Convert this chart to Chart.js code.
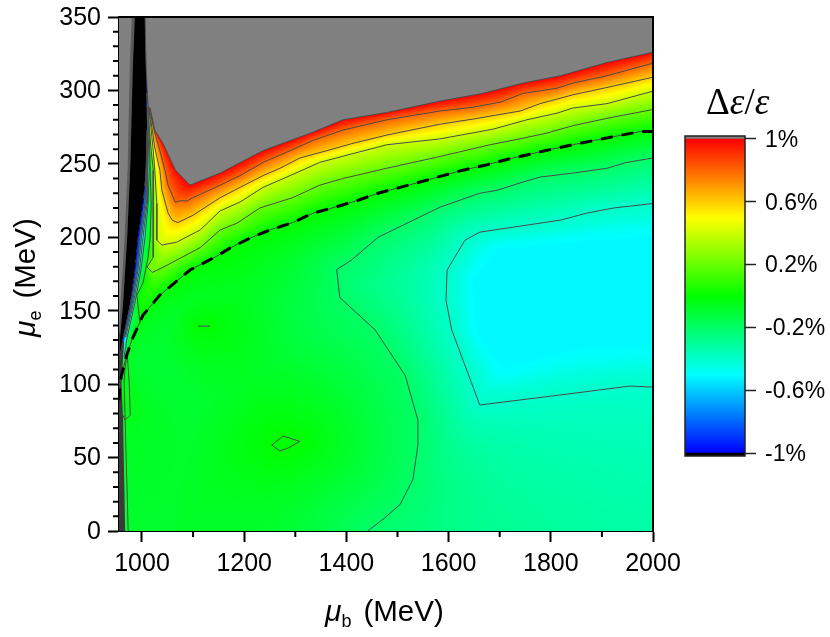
<!DOCTYPE html>
<html>
<head>
<meta charset="utf-8">
<title>Contour chart</title>
<script src="https://cdn.jsdelivr.net/npm/chart.js@4"></script>
<style>
  html, body { margin: 0; padding: 0; background: #fff; }
  #wrap { position: relative; width: 830px; height: 637px; overflow: hidden; font-family: "Liberation Sans", Arial, sans-serif; color: #000; }
  #main { position: absolute; left: 0; top: 0; }
  #bar { position: absolute; left: 670px; top: 120px; }
  .label { position: absolute; white-space: nowrap; font-size: 29.5px; line-height: 34px; }
  .label i { font-size: 30px; }
  .label sub { font-size: 18px; line-height: 0; vertical-align: -6px; margin-right: 12px; }
  #xtitle { left: 325px; top: 594px; }
  #ytitle { left: 8px; top: 337px; transform-origin: left top; transform: rotate(-90deg); }
  #bartitle { left: 706px; top: 81px; font-family: "Liberation Serif", serif; font-size: 37px; line-height: 42px; }
  #bartitle i { font-size: 37px; }
</style>
</head>
<body>
<div id="wrap">
  <canvas id="main" width="830" height="637"></canvas>
  <canvas id="bar" width="160" height="350"></canvas>
  <div class="label" id="xtitle"><i>μ</i><sub>b</sub>(MeV)</div>
  <div class="label" id="ytitle"><i>μ</i><sub>e</sub>(MeV)</div>
  <div class="label" id="bartitle">Δ<i>ε</i>/<i>ε</i></div>
</div>
<script>
// axis ticks
const xTicks = [1000, 1200, 1400, 1600, 1800, 2000];
const xMinor = [1100, 1300, 1500, 1700, 1900];
const yTicks = [0, 50, 100, 150, 200, 250, 300, 350];
const yMinor = [10, 20, 30, 40, 60, 70, 80, 90, 110, 120, 130, 140, 160, 170, 180, 190, 210, 220, 230, 240, 260, 270, 280, 290, 310, 320, 330, 340];
const barTicks = [1, 0.6, 0.2, -0.2, -0.6, -1];

// contour lines, [mu_b, mu_e]
const level10 = [[1006, 350], [1008, 316], [1012, 289], [1016, 288], [1025, 273], [1041, 264], [1065, 246], [1070, 244], [1094, 235.5], [1153, 243.7], [1237, 259], [1335, 271.6], [1393, 280], [1479, 285], [1583, 292.7], [1667, 298], [1746, 305], [1819, 310], [1910, 319], [2000, 326]];
const level08 = [[1012, 289], [1016, 285], [1025, 271], [1035, 259], [1045, 245.7], [1051, 235.5], [1065, 224], [1078, 225], [1088, 224.6], [1098, 226.7], [1153, 235.5], [1192, 242], [1237, 251], [1290, 259], [1335, 266], [1393, 273], [1479, 280], [1583, 286], [1648, 288.6], [1701, 292], [1746, 298], [1812, 301.5], [1843, 305], [1910, 310], [2000, 318.6]];
const level06 = [[1012, 289], [1016, 283], [1025, 261], [1035, 245.7], [1039, 232], [1051, 216.5], [1059, 211.7], [1070, 210], [1100, 215], [1153, 227], [1192, 234], [1237, 242], [1270, 247], [1309, 254], [1362, 259], [1413, 264], [1479, 269.6], [1583, 277], [1648, 280.5], [1740, 286], [1779, 291], [1843, 297], [1910, 302], [2000, 309]];
const level04 = [[1012, 289], [1016, 280], [1022, 259], [1025, 245.7], [1029, 223], [1029, 198], [1039, 194.7], [1068, 196.7], [1114, 205], [1153, 218], [1192, 224], [1237, 234], [1290, 242], [1348, 251], [1413, 257], [1479, 263], [1583, 267], [1687, 273.6], [1753, 280], [1812, 284.5], [1843, 288], [1910, 291], [2000, 299.5]];
const level02 = [[1012, 289], [1014, 276], [1018, 259], [1022, 245.7], [1022, 223], [1022, 186.5], [1010, 179.7], [1020, 176], [1049, 181], [1114, 193], [1153, 205], [1186, 209.6], [1231, 220], [1295, 227], [1348, 235.5], [1393, 240], [1479, 247], [1583, 255], [1681, 263], [1746, 267.5], [1793, 271], [1843, 276], [1910, 281], [2000, 287]];
const level00 = [[955, 89], [957, 100.7], [961, 107.5], [969, 118.4], [980, 130], [1002, 147], [1035, 160.6], [1094, 177.7], [1143, 186.5], [1172, 192.6], [1211, 199.4], [1250, 205], [1295, 210], [1335, 216.5], [1378, 220.5], [1421, 225], [1462, 230], [1505, 234], [1544, 237.6], [1589, 242], [1628, 245.7], [1671, 249], [1714, 253], [1759, 256.6], [1802, 260], [1843, 263], [1886, 266], [1930, 269], [1975, 272], [2000, 272]];
const level00Left = [[1012, 289], [1014, 273], [1016, 245.7], [1018, 223], [1016, 200], [1012, 186.5], [1002, 169], [990, 160.6], [996, 142]];
const levelM02 = [[1442, 0], [1475, 9], [1505, 18], [1530, 35], [1540, 58.5], [1540, 75.5], [1515, 106], [1456, 137], [1387, 159], [1381, 178], [1410, 184.5], [1462, 200], [1583, 220.5], [1661, 230], [1695, 232], [1740, 237], [1779, 241], [1843, 243.7], [1910, 247], [1949, 251], [2000, 254]];
const levelM02Left = [[1012, 289], [1012, 273], [1014, 245.7], [1012, 223], [1006, 200], [998, 177.7], [986, 155], [971, 132], [965, 118.4]];
const levelM04Left = [[1011, 273], [1010, 223], [1002, 200], [995, 177.7], [983, 155], [968, 132]];
const levelM06Left = [[1011, 273], [1008, 223], [999, 200], [992, 177.7], [981, 155], [966, 132]];
const levelM08Left = [[1010, 273], [1006, 223], [996, 200], [990, 177.7], [978, 155], [964, 132]];
const levelM04 = [[2000, 223], [1924, 220], [1871, 216.5], [1819, 211.7], [1661, 203.5], [1632, 198], [1597, 177.7], [1595, 157], [1606, 137], [1661, 85.8], [1818, 92.6], [1955, 98.7], [2000, 98]];
const plateauM05 = [[2000, 198], [1701, 191], [1657, 171], [1661, 137], [1710, 113], [1819, 126], [2000, 130]];
const blob00 = [[1254, 58.5], [1276, 64.7], [1309, 61], [1286, 56.5], [1270, 54.5], [1254, 58.5]];
const dash00 = [[1110, 139.5], [1133, 139.5]];
const leftLine = [[973, 0], [967, 75.5], [961, 80]];
const leftLoop = [[967, 75.5], [977, 79], [975, 100.7], [971, 121], [967, 111.6], [965, 100.7], [967, 75.5]];

// dark parts along the left edge
const blackRight = [[1006, 350], [1008, 316], [1010, 273], [1008, 248], [1002, 223], [992, 200], [986, 177.7], [977, 155], [963, 132], [957, 122]];
const blackLeft = [[957, 132], [963, 155], [971, 200], [977, 248], [982, 316], [986, 350]];
const sliverLeft = [[955, 132], [958, 155], [966, 200], [972, 248], [976, 316], [980, 350], [986, 350], [982, 316], [977, 248], [971, 200], [963, 155], [957, 132]];
const darkStrip = [[955, 0], [967, 0], [963, 75.5], [960, 100], [963, 118], [965, 128], [957, 135], [955, 135]];

const GRAY = [128, 128, 128];

// colour scale of the bar: blue, cyan, green, yellow, red
function valueColor(v) {
    if (v >= 1) return [255, 0, 0];
    if (v >= 0.5) return [255, 255 * (1 - v) / 0.5, 0];
    if (v >= 0) return [255 * v / 0.5, 255, 0];
    if (v >= -0.5) return [0, 255, 255 * -v / 0.5];
    if (v >= -1) return [0, 255 * (v + 1) / 0.5, 255];
    return [0, 0, 0];
}

function inside(px, py, poly) {
    let hit = false;
    for (let i = 0, j = poly.length - 1; i < poly.length; j = i++) {
        const a = poly[i], b = poly[j];
        if ((a[1] > py) !== (b[1] > py) && px < (b[0] - a[0]) * (py - a[1]) / (b[1] - a[1]) + a[0]) hit = !hit;
    }
    return hit;
}

function distance(px, py, lines) {
    let best = Infinity;
    for (const line of lines) {
        for (let i = 0; i < line.length - 1; i++) {
            const a = line[i], b = line[i + 1];
            const dx = b[0] - a[0], dy = b[1] - a[1];
            const len = dx * dx + dy * dy || 1;
            let t = ((px - a[0]) * dx + (py - a[1]) * dy) / len;
            t = t < 0 ? 0 : t > 1 ? 1 : t;
            const ex = a[0] + t * dx - px, ey = a[1] + t * dy - py;
            const d = ex * ex + ey * ey;
            if (d < best) best = d;
        }
    }
    return Math.sqrt(best);
}

function between(lowValue, highValue, dLow, dHigh) {
    return lowValue + (highValue - lowValue) * dLow / (dLow + dHigh || 1);
}

// shade the plot area from the contour lines, through the chart scales
function buildShade(chart) {
    const area = chart.chartArea, sx = chart.scales.x, sy = chart.scales.y;
    const left = Math.round(area.left), top = Math.round(area.top);
    const w = Math.round(area.right) - left, h = Math.round(area.bottom) - top;
    const toPx = pts => pts.map(p => [sx.getPixelForValue(p[0]), sy.getPixelForValue(p[1])]);
    const above = pts => toPx([...pts, [pts[pts.length - 1][0] + 100, pts[pts.length - 1][1]], [2100, 400], [pts[0][0], 400]]);

    const zeroEdge = [...level00Left, ...level00.slice(5)];
    const upper = [level10, level08, level06, level04, level02, zeroEdge];
    const upperPx = upper.map(toPx);
    const upperPoly = upper.map(above);
    const upperVal = [1, 0.8, 0.6, 0.4, 0.2, 0];

    const zeroLines = [toPx(level00), toPx(level00Left), toPx(blob00), toPx(dash00)];
    const m02Px = toPx(levelM02), m02LeftPx = toPx(levelM02Left), blackPx = toPx(blackRight);
    const m02Poly = toPx([...levelM02, [2100, 254], [2100, 400], [1012, 400], ...levelM02Left, [940, 118], [940, -20], [1442, -20]]);
    const grayPoly = toPx([...blackRight, [900, 122], [900, 400], [1006, 400]]);
    const m04Px = toPx(levelM04), m04Poly = toPx([[2100, 223], ...levelM04, [2100, 98]]);
    const m05Px = toPx(plateauM05), m05Poly = toPx([[2100, 198], ...plateauM05, [2100, 130]]);

    const off = document.createElement("canvas");
    off.width = w;
    off.height = h;
    const octx = off.getContext("2d");
    const img = octx.createImageData(w, h);

    for (let j = 0; j < h; j++) {
        const py = top + j + 0.5;
        for (let i = 0; i < w; i++) {
            const px = left + i + 0.5;
            let color = null, v = 0;
            if (inside(px, py, upperPoly[0])) {
                color = GRAY;
            } else {
                let found = false;
                for (let k = 1; k < upper.length && !found; k++) {
                    if (inside(px, py, upperPoly[k])) {
                        v = between(upperVal[k], upperVal[k - 1], distance(px, py, [upperPx[k]]), distance(px, py, [upperPx[k - 1]]));
                        found = true;
                    }
                }
                if (!found) {
                    if (inside(px, py, m02Poly)) {
                        v = between(-0.2, 0, distance(px, py, [m02Px, m02LeftPx]), distance(px, py, zeroLines));
                    } else if (inside(px, py, grayPoly)) {
                        color = GRAY;
                    } else if (px < 175) {
                        v = between(-1, -0.2, distance(px, py, [blackPx]), distance(px, py, [m02LeftPx]));
                    } else if (inside(px, py, m05Poly)) {
                        v = -0.51;
                    } else if (inside(px, py, m04Poly)) {
                        // eased so the plateau has no visible rim
                        const t = between(0, 1, distance(px, py, [m04Px]), distance(px, py, [m05Px]));
                        v = -0.4 - 0.11 * t * t * (3 - 2 * t);
                    } else {
                        v = between(-0.2, -0.4, distance(px, py, [m02Px]), distance(px, py, [m04Px]));
                    }
                }
            }
            const c = color || valueColor(v);
            const at = (j * w + i) * 4;
            img.data[at] = c[0];
            img.data[at + 1] = c[1];
            img.data[at + 2] = c[2];
            img.data[at + 3] = 255;
        }
    }
    octx.putImageData(img, 0, 0);
    return { canvas: off, left, top };
}

let shade = null;
const shadePlugin = {
    id: "shade",
    beforeDatasetsDraw(chart) {
        if (!shade) shade = buildShade(chart);
        chart.ctx.drawImage(shade.canvas, shade.left, shade.top);
    }
};

// minor ticks and the top/right frame
const framePlugin = {
    id: "frame",
    afterDraw(chart) {
        const ctx = chart.ctx, area = chart.chartArea;
        ctx.save();
        ctx.strokeStyle = "#000";
        ctx.lineWidth = 2;
        ctx.beginPath();
        ctx.moveTo(area.left, area.top);
        ctx.lineTo(area.right, area.top);
        ctx.lineTo(area.right, area.bottom);
        xMinor.forEach(v => {
            const p = chart.scales.x.getPixelForValue(v);
            ctx.moveTo(p, area.bottom);
            ctx.lineTo(p, area.bottom + 6);
        });
        yMinor.forEach(v => {
            const p = chart.scales.y.getPixelForValue(v);
            ctx.moveTo(area.left, p);
            ctx.lineTo(area.left - 6, p);
        });
        ctx.stroke();
        ctx.restore();
    }
};

function toPoints(pts) {
    return pts.map(p => ({ x: p[0], y: p[1] }));
}

function contour(pts) {
    return { data: toPoints(pts), showLine: true, pointRadius: 0, borderColor: "rgb(75,75,75)", borderWidth: 1, fill: false, order: 2 };
}

function patch(pts, color, order) {
    return { data: toPoints(pts), showLine: true, pointRadius: 0, borderWidth: 0, borderColor: color, backgroundColor: color, fill: "shape", order: order };
}

const tickFont = { family: "'Liberation Sans', Arial, sans-serif", size: 25 };

new Chart(document.getElementById("main"), {
    type: "scatter",
    data: {
        datasets: [
            patch(sliverLeft, "#5a5a5a", 6),
            patch(darkStrip, "#3a3a3a", 5),
            patch([...blackRight, ...blackLeft], "#000", 4),
            contour(level10),
            contour(level08),
            contour(level06),
            contour(level04),
            contour(level02),
            contour(level00),
            contour(level00Left),
            contour(levelM02),
            contour(levelM02Left),
            contour(levelM04Left),
            contour(levelM06Left),
            contour(levelM08Left),
            contour(levelM04),
            contour(blob00),
            contour(dash00),
            contour(leftLine),
            contour(leftLoop),
            { data: toPoints(level00), showLine: true, pointRadius: 0, borderColor: "#000", borderWidth: 3, borderDash: [12, 9], fill: false, order: 0 }
        ]
    },
    options: {
        responsive: false,
        animation: false,
        events: [],
        layout: { padding: { top: 17, right: 177, left: 0, bottom: 0 } },
        plugins: { legend: { display: false }, tooltip: { enabled: false } },
        scales: {
            x: {
                type: "linear",
                min: 955,
                max: 2000,
                afterBuildTicks: s => { s.ticks = xTicks.map(v => ({ value: v })); },
                afterFit: s => { s.height = 106; s.paddingLeft = 0; s.paddingRight = 0; },
                grid: { drawOnChartArea: false, tickLength: 11, tickWidth: 2, tickColor: "#000" },
                border: { color: "#000", width: 2 },
                ticks: { color: "#000", font: tickFont, padding: 7, maxRotation: 0, autoSkip: false, callback: v => String(v) }
            },
            y: {
                min: 0,
                max: 350,
                afterBuildTicks: s => { s.ticks = yTicks.map(v => ({ value: v })); },
                afterFit: s => { s.width = 119; s.paddingTop = 0; s.paddingBottom = 0; },
                grid: { drawOnChartArea: false, tickLength: 11, tickWidth: 2, tickColor: "#000" },
                border: { color: "#000", width: 2 },
                ticks: { color: "#000", font: tickFont, padding: 7, labelOffset: 1, autoSkip: false, callback: v => String(v) }
            }
        }
    },
    plugins: [shadePlugin, framePlugin]
});

// colour bar on its own small chart
const barFrame = {
    id: "barFrame",
    afterDraw(chart) {
        const ctx = chart.ctx, a = chart.chartArea;
        ctx.save();
        ctx.strokeStyle = "#222";
        ctx.lineWidth = 1.5;
        ctx.strokeRect(a.left, a.top, a.right - a.left, a.bottom - a.top);
        ctx.restore();
    }
};

function barGradient(context) {
    const chart = context.chart;
    if (!chart.chartArea) return "#0f0";
    const s = chart.scales.y;
    const g = chart.ctx.createLinearGradient(0, s.getPixelForValue(-1), 0, s.getPixelForValue(1));
    [-1, -0.5, 0, 0.5, 1].forEach((v, i) => {
        const c = valueColor(v);
        g.addColorStop(i / 4, "rgb(" + c.join(",") + ")");
    });
    return g;
}

new Chart(document.getElementById("bar"), {
    type: "bar",
    data: {
        labels: [""],
        datasets: [
            { data: [[-1.019, -1]], backgroundColor: "#000", barPercentage: 1, categoryPercentage: 1 },
            { data: [[-1, 1]], backgroundColor: barGradient, barPercentage: 1, categoryPercentage: 1 },
            { data: [[1, 1.019]], backgroundColor: "#808080", barPercentage: 1, categoryPercentage: 1 }
        ]
    },
    options: {
        responsive: false,
        animation: false,
        events: [],
        layout: { padding: { left: 15, top: 16, bottom: 14, right: 0 } },
        plugins: { legend: { display: false }, tooltip: { enabled: false } },
        scales: {
            x: { stacked: true, display: false },
            y: {
                position: "right",
                min: -1.019,
                max: 1.019,
                afterBuildTicks: s => { s.ticks = barTicks.map(v => ({ value: v })); },
                afterFit: s => { s.width = 85; s.paddingTop = 0; s.paddingBottom = 0; },
                grid: { drawOnChartArea: false, tickLength: 11, tickWidth: 1.5, tickColor: "#222" },
                border: { display: false },
                ticks: { color: "#000", font: { family: tickFont.family, size: 23 }, padding: 9, labelOffset: 1.5, autoSkip: false, callback: v => v + "%" }
            }
        }
    },
    plugins: [barFrame]
});
</script>
</body>
</html>
